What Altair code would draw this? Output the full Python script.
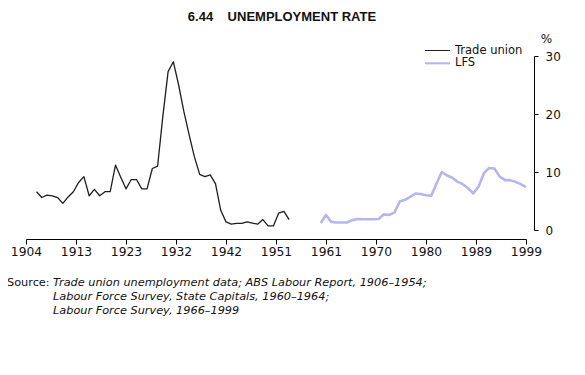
import altair as alt
import pandas as pd

# ---- data ----
tu_years = list(range(1906, 1955))
tu_values = [6.6, 5.6, 6.0, 5.9, 5.6, 4.6, 5.7, 6.6, 8.2, 9.2,
             5.9, 7.0, 5.9, 6.6, 6.6, 11.2, 9.1, 7.1, 8.7, 8.7,
             7.1, 7.1, 10.6, 11.0, 19.6, 27.3, 29.0, 25.0, 20.4, 16.4,
             12.6, 9.6, 9.2, 9.5, 8.0, 3.4, 1.4, 1.0, 1.15, 1.15,
             1.4, 1.2, 1.0, 1.8, 0.7, 0.7, 2.9, 3.2, 1.8]
lfs_years = list(range(1960, 2000))
lfs_values = [1.2, 2.6, 1.4, 1.3, 1.3, 1.3, 1.7, 1.9, 1.85, 1.85,
              1.85, 1.9, 2.7, 2.6, 3.0, 4.9, 5.2, 5.7, 6.3, 6.2,
              6.0, 5.9, 8.0, 10.0, 9.4, 9.0, 8.3, 7.9, 7.2, 6.3,
              7.5, 9.8, 10.7, 10.6, 9.2, 8.6, 8.6, 8.3, 7.9, 7.4]

series_names = ["Trade union", "LFS"]
series_colors = ["#1e1e1e", "#b6b6ee"]
series_widths = [1.3, 2.6]
x_ticks = [1904, 1913.5, 1923, 1932.5, 1942, 1951.5, 1961, 1970.5, 1980, 1989.5, 1999]
y_ticks = [0, 10, 20, 30]
title_text = "6.44\u00a0\u00a0\u00a0\u00a0UNEMPLOYMENT RATE"
source_label = "Source:"
source_lines = [
    "Trade union unemployment data; ABS Labour Report, 1906\u20131954;",
    "Labour Force Survey, State Capitals, 1960\u20131964;",
    "Labour Force Survey, 1966\u20131999",
]

df = pd.concat([
    pd.DataFrame({"year": tu_years, "value": tu_values, "series": series_names[0]}),
    pd.DataFrame({"year": lfs_years, "value": lfs_values, "series": series_names[1]}),
], ignore_index=True)

FONT = "DejaVu Sans"

lines = alt.Chart(df).mark_line(strokeJoin="round", strokeCap="butt").encode(
    x=alt.X("year:Q",
            scale=alt.Scale(domain=[1904, 1999], nice=False, zero=False),
            axis=alt.Axis(values=x_ticks, labelExpr="floor(datum.value)", title=None,
                          grid=False, offset=9, tickSize=5, tickColor="#000",
                          domainColor="#000", labelFont=FONT, labelFontSize=12.3,
                          labelColor="#111", labelPadding=1, labelFlush=False,
                          labelOverlap=False)),
    y=alt.Y("value:Q",
            scale=alt.Scale(domain=[0, 30], nice=False),
            axis=alt.Axis(orient="right", values=y_ticks, title="%", titleAngle=0,
                          titleX=12, titleY=-18, titleAlign="center",
                          titleBaseline="middle", titleFont=FONT, titleFontSize=12,
                          titleFontWeight="normal", titleColor="#111",
                          grid=False, offset=8, tickSize=4, tickColor="#000",
                          domainColor="#000", labelFont=FONT, labelFontSize=12,
                          labelColor="#111", labelPadding=7)),
    color=alt.Color("series:N",
                    scale=alt.Scale(domain=series_names, range=series_colors),
                    legend=None),
    strokeWidth=alt.StrokeWidth("series:N",
                                scale=alt.Scale(domain=series_names, range=series_widths),
                                legend=None),
)

def text_layer(txt, x, y, font, size, style="normal", weight="normal", align="left"):
    return alt.Chart(pd.DataFrame({"t": [txt]})).mark_text(
        align=align, baseline="middle", font=font, fontSize=size,
        fontStyle=style, fontWeight=weight, color="#111"
    ).encode(x=alt.value(x), y=alt.value(y), text="t:N")

# manual legend (key lines + labels)
legend_layers = []
for i, name in enumerate(series_names):
    ly = -5.5 + 12.8 * i
    legend_layers.append(
        alt.Chart(pd.DataFrame({"s": [name]})).mark_rule(
            color=series_colors[i], strokeWidth=series_widths[i] * 0.8
        ).encode(x=alt.value(399), x2=alt.value(424), y=alt.value(ly))
    )
    legend_layers.append(text_layer(name, 429, ly, FONT, 11.5))

title_layer = text_layer(title_text, 256, -39, "Liberation Sans", 13,
                         weight="bold", align="center")
src = [text_layer(source_label, -19, 227, FONT, 11.3)]
for i, s in enumerate(source_lines):
    src.append(text_layer(s, 27, 227 + 14 * i, FONT, 11.3, style="italic"))

chart = alt.layer(lines, title_layer, *legend_layers, *src).properties(
    width=500, height=174,
    padding={"left": 18, "top": 48, "right": 51, "bottom": 120},
    autosize="none",
    background="white",
).configure_view(strokeWidth=0)

chart.save("out.html", embed_options={"renderer": "svg", "actions": False})
